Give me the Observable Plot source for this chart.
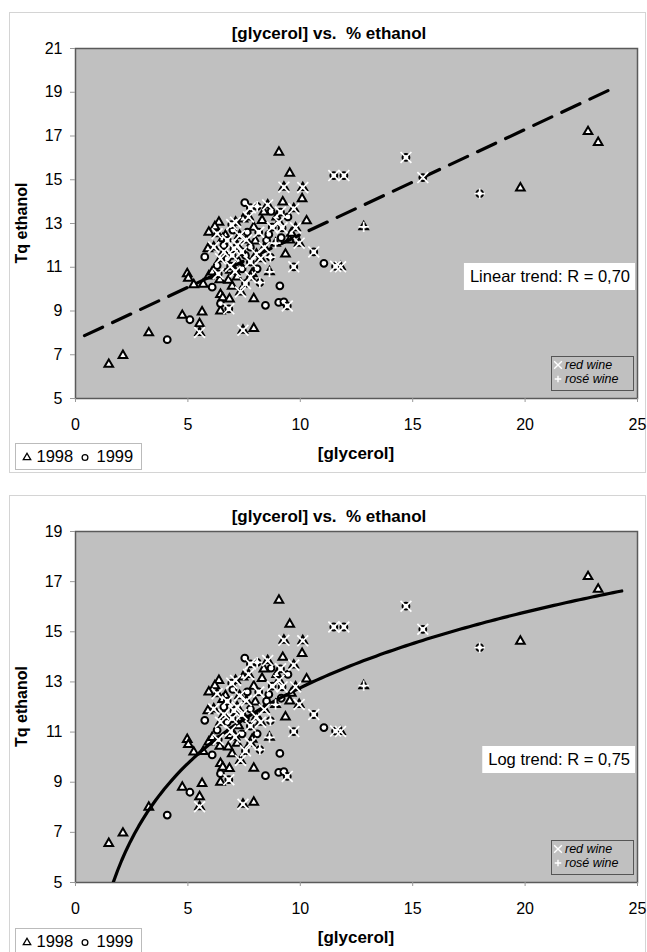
<!DOCTYPE html>
<html>
<head>
<meta charset="utf-8">
<script src="https://cdn.jsdelivr.net/npm/d3@7"></script>
<script src="https://cdn.jsdelivr.net/npm/@observablehq/plot@0.6"></script>
<style>
  body { margin: 0; background: #fff; }
  #wrap { position: relative; width: 647px; height: 952px; overflow: hidden; background: #fff; }
  #wrap svg { position: absolute; left: 0; }
</style>
</head>
<body>
<div id="wrap"></div>
<script>
// ---------- data ----------
const xTicks = [0, 5, 10, 15, 20, 25];
const yTicksLinear = [5, 7, 9, 11, 13, 15, 17, 19, 21];
const yTicksLog = [5, 7, 9, 11, 13, 15, 17, 19];

const glycerol = [1.48,2.11,3.26,4.08,4.75,5.09,5.63,5.52,5.52,4.97,5.02,5.26,5.68,6.08,5.93,6.08,6.42,6.45,6.55,6.45,
  6.45,6.82,6.97,7.34,7.93,8.45,9.04,9.27,9.42,7.45,7.93,9.09,7.19,6.89,7.41,7.86,8.08,7.78,7.56,8.63,
  9.71,5.75,6.45,6.75,6.97,7.56,8.23,8.67,9.34,7.78,6.30,6.60,7.19,7.78,6.15,5.89,6.38,7.12,8.30,9.05,
  10.28,5.93,6.30,6.67,7.64,7.93,8.75,9.19,9.79,9.53,8.50,6.75,9.05,9.53,11.49,11.94,9.27,9.22,10.11,10.08,
  7.53,7.78,8.08,8.38,9.71,9.12,10.60,11.05,11.57,11.79,12.82,14.70,15.45,17.98,19.79,22.80,23.25,6.20,6.55,7.00,
  7.30,8.00,8.60,8.90,9.60,7.40,6.90,8.40,9.15,8.95,7.25,6.85,8.20,9.95,7.70,8.70,
  6.60,7.05,7.60,8.15,6.95,7.45,8.55,6.35,7.10,8.05,9.45,6.80];
const ethanol = [6.56,6.97,8.00,7.69,8.80,8.60,8.95,8.42,8.02,10.70,10.50,10.20,10.22,10.09,10.60,10.78,10.43,9.75,9.60,9.34,
  9.00,9.10,10.13,9.87,9.56,9.26,9.39,9.42,9.23,8.12,8.20,10.15,10.55,10.86,10.93,10.71,10.93,10.55,10.25,10.79,
  11.02,11.47,11.39,11.39,11.54,11.54,11.39,11.46,11.60,11.24,11.08,12.00,12.00,11.92,11.92,11.85,13.06,13.06,13.14,13.06,
  13.12,12.60,12.53,12.45,12.60,12.83,12.83,12.80,12.80,12.24,12.23,12.23,16.26,15.30,15.19,15.19,14.66,13.98,14.64,14.13,
  13.95,13.72,13.78,13.52,13.67,13.52,11.70,11.18,11.04,11.02,12.85,16.02,15.10,14.37,14.62,17.20,16.70,12.85,12.30,12.70,
  12.45,12.20,12.50,12.10,12.55,11.70,11.05,11.90,12.35,13.30,11.25,9.55,10.30,12.10,13.30,13.55,
  11.70,11.85,12.25,12.60,12.95,13.20,13.85,10.70,10.80,11.60,13.30,10.40];
const vintage = [1998,1998,1998,1999,1998,1999,1998,1998,1998,1998,1998,1998,1998,1999,1998,1998,1998,1998,1998,1999,
  1998,1999,1998,1998,1998,1999,1999,1999,1999,1998,1998,1999,1998,1998,1999,1998,1999,1998,1999,1998,
  1999,1999,1998,1999,1999,1999,1998,1999,1998,1999,1999,1999,1998,1999,1998,1998,1998,1998,1998,1998,
  1998,1998,1998,1998,1999,1998,1999,1999,1998,1998,1999,1999,1998,1998,1999,1999,1998,1998,1998,1998,
  1999,1999,1999,1998,1998,1999,1999,1999,1999,1998,1998,1999,1999,1999,1998,1998,1998,1998,1998,1999,
  1998,1998,1999,1998,1998,1999,1999,1998,1999,1998,1998,1998,1999,1998,1998,1999,
  1998,1999,1998,1999,1999,1998,1998,1999,1998,1998,1999,1998];
const wine = ["white","white","white","white","white","white","white","white","red","white","white","white","white","white","white","white","white","white","white","white",
  "white","red","white","red","white","white","white","white","red","red","white","white","white","white","white","white","white","red","red","rosé",
  "red","white","red","white","red","white","red","rosé","white","red","white","white","red","white","red","white","white","red","white","red",
  "white","white","red","white","white","white","red","red","red","white","white","red","white","white","red","red","red","white","red","white",
  "white","red","rosé","white","red","red","red","white","red","red","rosé","red","red","rosé","white","white","white","white","white","white",
  "red","white","white","rosé","white","red","red","red","white","white","white","white","rosé","red","red","white",
  "red","red","red","red","red","white","red","red","red","red","white","white"];

const vintages = [1998, 1999];
const wineTypes = ["red wine", "rosé wine"];

// trend line parameters
const linearTrend = { intercept: 7.68, slope: 0.481, from: 0.4, to: 23.9, label: "Linear trend: R = 0,70" };
const logTrend = { intercept: 2.75, slope: 4.35, from: 1.68, to: 24.3, label: "Log trend: R = 0,75" };

// ---------- build ----------
const rows = glycerol.map((g, i) => ({ glycerol: g, ethanol: ethanol[i], vintage: vintage[i], wine: wine[i] }));
const FONT = "'Liberation Sans', Arial, Helvetica, sans-serif";
const wrap = document.getElementById("wrap");

function drawChart(cfg) {
  const t = cfg.trend;
  const trendPts = cfg.kind === "linear"
    ? [t.from, t.to].map(x => ({ x, y: t.intercept + t.slope * x }))
    : d3.range(0, 121).map(i => { const x = t.from + (t.to - t.from) * i / 120; return { x, y: t.intercept + t.slope * Math.log(x) }; });

  const lineOpts = { x: "x", y: "y", stroke: "#000", strokeWidth: 3.2, clip: true };
  if (cfg.kind === "linear") lineOpts.strokeDasharray = "20,11";

  const svg = Plot.plot({
    width: 647,
    height: cfg.height,
    marginLeft: 75, marginRight: 10, marginTop: 48, marginBottom: cfg.height - cfg.plotBottom,
    style: { fontFamily: FONT, fontSize: "16px", color: "#000", background: "transparent", overflow: "visible" },
    x: { domain: [0, 25] },
    y: { domain: [cfg.yTicks[0], cfg.yTicks[cfg.yTicks.length - 1]] },
    marks: [
      Plot.frame({ fill: "#c0c0c0", stroke: "#5a5a5a", strokeWidth: 1.5 }),
      Plot.axisX({ ticks: xTicks, tickSize: 4, tickPadding: 16, fontSize: 16, label: null, stroke: "#999", tickFormat: d => String(d) }),
      Plot.axisY({ ticks: cfg.yTicks, tickSize: 5, tickPadding: 8, fontSize: 16, label: null, stroke: "#999", tickFormat: d => String(d) }),
      Plot.dot(rows.filter(d => d.vintage === 1998), { x: "glycerol", y: "ethanol", symbol: "triangle", r: 3.2, fill: "#fff", stroke: "#000", strokeWidth: 2 }),
      Plot.dot(rows.filter(d => d.vintage === 1999), { x: "glycerol", y: "ethanol", symbol: "circle", r: 3.4, fill: "#fff", stroke: "#000", strokeWidth: 2 }),
      Plot.line(trendPts, lineOpts),
      Plot.dot(rows.filter(d => d.wine === "red"), { x: "glycerol", y: "ethanol", symbol: "times", r: 5, fill: "none", stroke: "#fff", strokeWidth: 1.7 }),
      Plot.dot(rows.filter(d => d.wine === "rosé"), { x: "glycerol", y: "ethanol", symbol: "plus", r: 3.4, fill: "none", stroke: "#fff", strokeWidth: 1.7 })
    ]
  });
  svg.style.top = cfg.top + "px";
  wrap.appendChild(svg);
  const s = d3.select(svg);

  // outer chart frame
  s.insert("rect", ":first-child")
    .attr("x", 9.5).attr("y", 12.5).attr("width", 636).attr("height", 460)
    .attr("fill", "#fff").attr("stroke", "#d4d4d4");

  // title
  s.append("text").attr("x", 329).attr("y", 33).attr("dy", "0.35em")
    .attr("text-anchor", "middle").attr("font-weight", "bold").attr("font-size", 17)
    .text("[glycerol] vs.  % ethanol");

  // axis titles
  s.append("text").attr("transform", `translate(21,${(48 + cfg.plotBottom) / 2}) rotate(-90)`)
    .attr("dy", "0.35em").attr("text-anchor", "middle").attr("font-weight", "bold").attr("font-size", 16)
    .text("Tq ethanol");
  s.append("text").attr("x", 356).attr("y", cfg.plotBottom + 55).attr("dy", "0.35em")
    .attr("text-anchor", "middle").attr("font-weight", "bold").attr("font-size", 17)
    .text("[glycerol]");

  // trend label box
  const tb = s.append("g");
  const rectT = tb.append("rect").attr("fill", "#fff");
  const txt = tb.append("text").attr("x", 630).attr("y", 276.5).attr("dy", "0.35em")
    .attr("text-anchor", "end").attr("font-size", 16.5).text(t.label);
  const len = txt.node().getComputedTextLength();
  rectT.attr("x", 630 - len - 6).attr("y", 263).attr("width", len + 11).attr("height", 27);

  // wine type legend
  const lg = s.append("g");
  lg.append("rect").attr("x", 551.5).attr("y", cfg.plotBottom - 41.5).attr("width", 82).attr("height", 34)
    .attr("fill", "#c0c0c0").attr("stroke", "#555").attr("stroke-width", 1);
  const sym = [d3.symbolTimes, d3.symbolPlus];
  wineTypes.forEach((w, i) => {
    const cy = cfg.plotBottom - 33 + i * 14;
    lg.append("path").attr("d", d3.symbol(sym[i], i === 0 ? 40 : 16)())
      .attr("transform", `translate(558,${cy})`).attr("fill", "none").attr("stroke", "#fff").attr("stroke-width", 1.4);
    lg.append("text").attr("x", 565).attr("y", cy).attr("dy", "0.35em").attr("text-anchor", "start")
      .attr("font-size", 12.5).attr("font-style", "italic").text(w);
  });

  // vintage legend
  const vg = s.append("g");
  const ly = cfg.legendY;
  vg.append("rect").attr("x", 15.5).attr("y", ly + 0.5).attr("width", 126).attr("height", 26)
    .attr("fill", "#fff").attr("stroke", "#bbb");
  const vx = [[27, 36.5], [85, 96.5]];
  vintages.forEach((v, i) => {
    const cy = ly + 13.5;
    vg.append("path").attr("d", d3.symbol(i === 0 ? d3.symbolTriangle : d3.symbolCircle, i === 0 ? 24 : 26)())
      .attr("transform", `translate(${vx[i][0]},${cy + 1})`)
      .attr("fill", "#fff").attr("stroke", "#000").attr("stroke-width", 1.3);
    vg.append("text").attr("x", vx[i][1]).attr("y", cy).attr("dy", "0.35em").attr("text-anchor", "start")
      .attr("font-size", 16.5).text(String(v));
  });
}

drawChart({ kind: "linear", trend: linearTrend, yTicks: yTicksLinear, top: 0, height: 480, plotBottom: 398, legendY: 443 });
drawChart({ kind: "log", trend: logTrend, yTicks: yTicksLog, top: 483, height: 469, plotBottom: 399, legendY: 445 });
</script>
</body>
</html>
